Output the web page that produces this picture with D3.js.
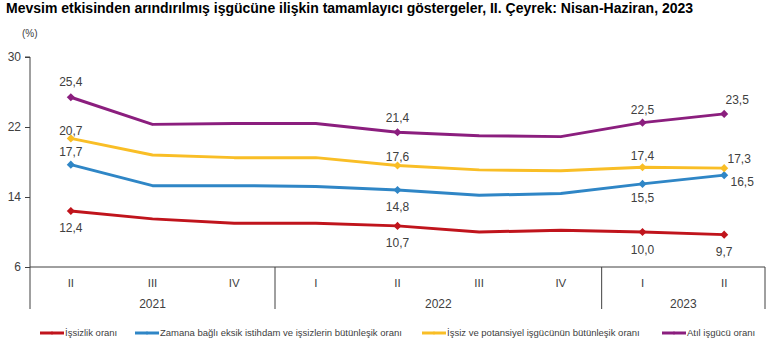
<!DOCTYPE html>
<html><head><meta charset="utf-8">
<script src="https://cdn.jsdelivr.net/npm/d3@7"></script>
<style>body{margin:0;background:#fff;}svg{display:block;font-family:"Liberation Sans",Arial,sans-serif;}</style>
</head><body>
<svg id="c" width="770" height="355"></svg>
<script>
const title = "Mevsim etkisinden arındırılmış işgücüne ilişkin tamamlayıcı göstergeler, II. Çeyrek: Nisan-Haziran, 2023";
const quarters = ["II","III","IV","I","II","III","IV","I","II"];
const years = ["2021","2021","2021","2022","2022","2022","2022","2023","2023"];
const yTicks = [6,14,22,30];
const seriesNames = ["İşsizlik oranı","Zamana bağlı eksik istihdam ve işsizlerin bütünleşik oranı","İşsiz ve potansiyel işgücünün bütünleşik oranı","Atıl işgücü oranı"];
const issizlik = [12.4,11.5,11.0,11.0,10.7,10.0,10.2,10.0,9.7];
const zamana   = [17.7,15.3,15.3,15.2,14.8,14.2,14.4,15.5,16.5];
const potansiyel=[20.7,18.8,18.5,18.5,17.6,17.1,17.0,17.4,17.3];
const atil     = [25.4,22.3,22.4,22.4,21.4,21.0,20.9,22.5,23.5];
const labelIdx = [0,4,7,8];

const colors = ["#C0141C","#2F86C6","#F9BE26","#8B1E7E"];
// label placement per series per labelled point: [dx, dy]
const place = [
  [[0,17],[0,17],[0,18],[0,17]],
  [[0,-13],[0,17],[0,14],[18,7]],
  [[0,-8],[0,-9],[0,-11],[15,-9]],
  [[0,-15],[0,-14],[0,-13],[13,-14]]
];
const data = [issizlik, zamana, potansiyel, atil];

const svg = d3.select("#c");
const L = 30, R = 765, T = 57, B = 267;
const x = d3.scaleBand().domain(d3.range(quarters.length)).range([L,R]);
const y = d3.scaleLinear().domain([6,30]).range([B,T]);
const cx = i => x(i) + x.bandwidth()/2;
const txt = "#404040";

svg.append("text").attr("x",6).attr("y",13).attr("font-size",14).attr("font-weight","bold").attr("fill","#000").text(title);
svg.append("text").attr("x",22).attr("y",37).attr("font-size",10).attr("fill",txt).text("(%)");

// y axis
const ya = svg.append("g").attr("transform",`translate(${L},0)`)
  .call(d3.axisLeft(y).tickValues(yTicks).tickSize(5).tickFormat(d3.format("d")));
ya.select(".domain").attr("stroke","#404040").attr("d",`M-5,${T}H0V${B+42}`);
ya.selectAll(".tick line").attr("stroke","#404040");
ya.selectAll(".tick text").attr("font-size",12).attr("fill",txt).attr("font-family","Liberation Sans, Arial, sans-serif").attr("x",-9);

// x axis
svg.append("line").attr("x1",L).attr("x2",R).attr("y1",B).attr("y2",B).attr("stroke","#404040");
svg.selectAll(".q").data(quarters).join("text").attr("x",(d,i)=>cx(i)).attr("y",B+20)
  .attr("text-anchor","middle").attr("font-size",11.5).attr("fill",txt).text(d=>d);
const groups = d3.groups(years.map((yv,i)=>({yv,i})), d=>d.yv);
groups.forEach(([yr, arr], gi) => {
  const first = arr[0].i, last = arr[arr.length-1].i;
  const x0 = x(first), x1 = x(last)+x.bandwidth();
  svg.append("text").attr("x",(x0+x1)/2).attr("y",B+41).attr("text-anchor","middle").attr("font-size",12).attr("fill",txt).text(yr);
  if (gi>0) svg.append("line").attr("x1",x0).attr("x2",x0).attr("y1",B).attr("y2",B+42).attr("stroke","#404040");
  if (gi===groups.length-1) svg.append("line").attr("x1",x1).attr("x2",x1).attr("y1",B).attr("y2",B+42).attr("stroke","#404040");
});

const line = d3.line().x((d,i)=>cx(i)).y(d=>y(d)).curve(d3.curveLinear);
const diamond = d3.symbol().type(d3.symbolDiamond2).size(42);
data.forEach((s,si)=>{
  svg.append("path").attr("d",line(s)).attr("fill","none").attr("stroke",colors[si]).attr("stroke-width",3).attr("stroke-linejoin","round");
  labelIdx.forEach((i,k)=>{
    svg.append("path").attr("d",diamond()).attr("transform",`translate(${cx(i)},${y(s[i])})`).attr("fill",colors[si]);
    svg.append("text").attr("x",cx(i)+place[si][k][0]).attr("y",y(s[i])+place[si][k][1]).attr("dy","0.35em")
      .attr("text-anchor","middle").attr("font-size",12).attr("fill",txt).text(d3.format(".1f")(s[i]).replace(".",","));
  });
});

// legend
const legX = [40,135,422,662];
seriesNames.forEach((n,i)=>{
  const g = svg.append("g").attr("transform",`translate(${legX[i]},333)`);
  g.append("line").attr("x1",0).attr("x2",24).attr("stroke",colors[i]).attr("stroke-width",3);
  g.append("path").attr("d",d3.symbol().type(d3.symbolDiamond2).size(8)()).attr("transform","translate(12,0)").attr("fill",colors[i]);
  g.append("text").attr("x",25).attr("dy","0.35em").attr("font-size",9.5).attr("fill",txt).text(n);
});
</script>
</body></html>
